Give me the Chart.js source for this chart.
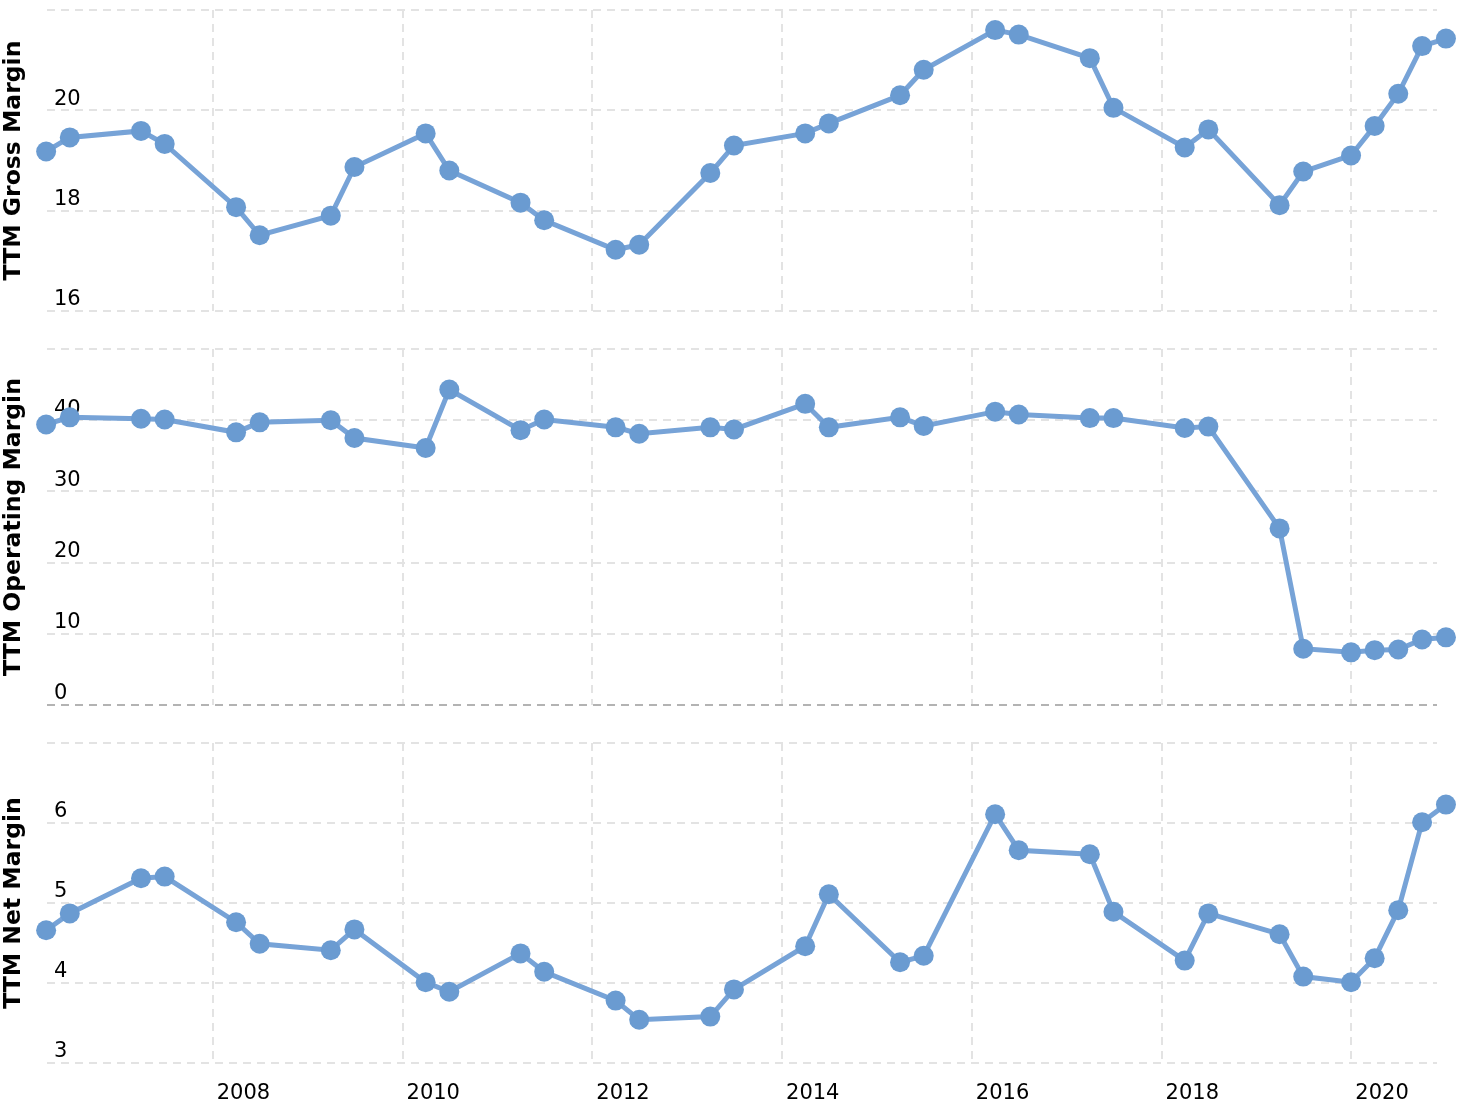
<!DOCTYPE html>
<html>
<head>
<meta charset="utf-8">
<script src="https://cdn.jsdelivr.net/npm/chart.js@4/dist/chart.umd.min.js"></script>
<style>
  body { margin: 0; background: #fff; }
  canvas { position: absolute; left: 0; }
</style>
</head>
<body>
<canvas id="gross" width="1464" height="330" style="top:0px"></canvas>
<canvas id="operating" width="1464" height="390" style="top:330px"></canvas>
<canvas id="net" width="1464" height="384" style="top:720px"></canvas>
<script>
// quarter end dates of each reading
const dates = [
    '2006-03-31', '2006-06-30', '2007-03-31', '2007-06-30', '2008-03-31', '2008-06-30',
    '2009-03-31', '2009-06-30', '2010-03-31', '2010-06-30', '2011-03-31', '2011-06-30',
    '2012-03-31', '2012-06-30', '2013-03-31', '2013-06-30', '2014-03-31', '2014-06-30',
    '2015-03-31', '2015-06-30', '2016-03-31', '2016-06-30', '2017-03-31', '2017-06-30',
    '2018-03-31', '2018-06-30', '2019-03-31', '2019-06-30', '2019-12-31', '2020-03-31',
    '2020-06-30', '2020-09-30', '2020-12-31'
];

const grossMargin = [
    19.18, 19.46, 19.59, 19.33, 18.07, 17.51, 17.90, 18.87, 19.54, 18.80, 18.16, 17.81,
    17.22, 17.32, 18.75, 19.30, 19.54, 19.74, 20.30, 20.81, 21.60, 21.51, 21.04, 20.05,
    19.26, 19.62, 18.11, 18.78, 19.10, 19.69, 20.33, 21.28, 21.43
];
const operatingMargin = [
    39.4, 40.4, 40.2, 40.1, 38.3, 39.7, 40.0, 37.5, 36.1, 44.3, 38.6, 40.1,
    39.0, 38.1, 39.0, 38.7, 42.3, 39.0, 40.4, 39.2, 41.2, 40.8, 40.3, 40.3,
    38.9, 39.1, 24.8, 7.9, 7.4, 7.7, 7.8, 9.2, 9.5
];
const netMargin = [
    4.66, 4.87, 5.31, 5.33, 4.76, 4.49, 4.41, 4.67, 4.01, 3.89, 4.37, 4.14,
    3.78, 3.54, 3.58, 3.92, 4.46, 5.11, 4.26, 4.34, 6.11, 5.66, 5.61, 4.89,
    4.28, 4.87, 4.61, 4.08, 4.01, 4.31, 4.91, 6.01, 6.23
];

const grossTicks = [16, 18, 20, 22];
const operatingTicks = [0, 10, 20, 30, 40, 50];
const netTicks = [3, 4, 5, 6, 7];
const yearTicks = [2008, 2010, 2012, 2014, 2016, 2018, 2020];
const xMin = 2006.253;
const xMax = 2020.903;

function toYear(d) {
    const [y, m, day] = d.split('-').map(Number);
    const start = Date.UTC(y, 0, 1);
    const end = Date.UTC(y + 1, 0, 1);
    return y + (Date.UTC(y, m - 1, day) - start) / (end - start);
}

function drawPanel(id, values, yTicks, title, padding, showYears) {
    const points = dates.map((d, i) => ({ x: toYear(d), y: values[i] }));
    new Chart(document.getElementById(id), {
        type: 'line',
        data: {
            datasets: [{
                data: points,
                borderColor: '#77a3d7',
                backgroundColor: '#6a9bd1',
                pointBackgroundColor: '#6a9bd1',
                pointBorderColor: '#6a9bd1',
                borderWidth: 5,
                pointRadius: 10,
                pointBorderWidth: 0,
                pointHoverRadius: 10,
                tension: 0,
                clip: false
            }]
        },
        options: {
            responsive: false,
            animation: false,
            devicePixelRatio: 1,
            layout: { padding: padding },
            plugins: { legend: { display: false }, tooltip: { enabled: false } },
            scales: {
                x: {
                    type: 'linear',
                    min: xMin,
                    max: xMax,
                    afterBuildTicks: s => { s.ticks = yearTicks.map(v => ({ value: v })); },
                    afterFit: s => {
                        s.height = showYears ? 41 : 0;
                        s.paddingLeft = 0;
                        s.paddingRight = 0;
                    },
                    grid: { color: '#e3e3e3', lineWidth: 2, drawTicks: false },
                    border: { display: false, dash: [8, 6] },
                    ticks: {
                        display: showYears,
                        autoSkip: false,
                        maxRotation: 0,
                        align: 'start',
                        labelOffset: 4,
                        padding: 18,
                        color: '#000',
                        font: { family: 'DejaVu Sans', size: 21 },
                        callback: v => String(v)
                    }
                },
                y: {
                    min: yTicks[0],
                    max: yTicks[yTicks.length - 1],
                    afterBuildTicks: s => { s.ticks = yTicks.map(v => ({ value: v })); },
                    afterFit: s => {
                        s.width = 47;
                        s.paddingTop = 0;
                        s.paddingBottom = 0;
                    },
                    grid: {
                        color: c => (c.tick && c.tick.value === 0) ? '#b3b3b3' : '#e3e3e3',
                        lineWidth: 2,
                        drawTicks: false
                    },
                    border: { display: false, dash: [8, 6] },
                    title: {
                        display: true,
                        text: title,
                        color: '#000',
                        padding: 0,
                        font: { family: 'DejaVu Sans', size: 23.5, weight: 'bold' }
                    },
                    ticks: {
                        mirror: true,
                        padding: 7,
                        labelOffset: -11,
                        color: '#000',
                        font: { family: 'DejaVu Sans', size: 21 },
                        callback: (v, i, t) => i === t.length - 1 ? '' : v
                    }
                }
            }
        }
    });
}

drawPanel('gross', grossMargin, grossTicks, 'TTM Gross Margin', { top: 9, bottom: 19, right: 27 }, false);
drawPanel('operating', operatingMargin, operatingTicks, 'TTM Operating Margin', { top: 19, bottom: 15, right: 27 }, false);
drawPanel('net', netMargin, netTicks, 'TTM Net Margin', { top: 23, bottom: 0, right: 27 }, true);
</script>
</body>
</html>
